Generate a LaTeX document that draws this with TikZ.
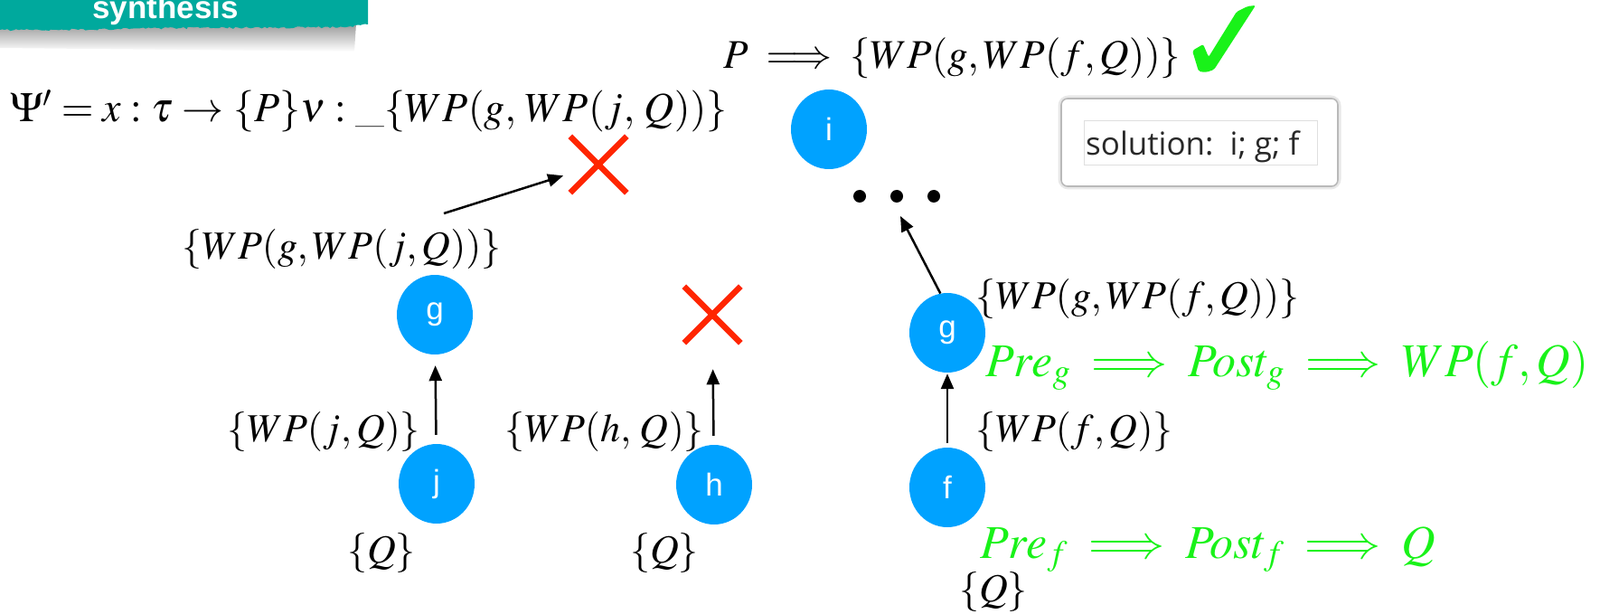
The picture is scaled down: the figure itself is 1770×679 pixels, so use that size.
\documentclass[tikz,border=0pt]{standalone}
\usepackage{amsmath}
\usepackage{mathptmx}
\usepackage[no-math]{fontspec}
\newfontfamily\sansf{Liberation Sans}
\newfontfamily\solf{Open Sans}
\usetikzlibrary{arrows.meta,shapes.geometric,shapes.misc,decorations.pathmorphing}
\definecolor{nodeblue}{RGB}{0,162,255}
\definecolor{lgreen}{RGB}{25,242,25}
\definecolor{xred}{RGB}{255,38,0}
\definecolor{teal1}{RGB}{0,169,157}
\definecolor{soltext}{RGB}{40,40,40}
\begin{document}
\begin{tikzpicture}[x=1pt,y=-1pt,
  fn/.style={ellipse, fill=nodeblue, minimum width=84pt, minimum height=88pt, inner sep=0pt,
    text=white, font=\sansf\fontsize{35}{35}\selectfont},
  lab/.style={anchor=base west, inner sep=0pt, font=\fontsize{44}{46}\selectfont},
  glab/.style={anchor=base west, inner sep=0pt, text=lgreen, font=\fontsize{52}{54}\selectfont},
  arr/.style={line width=2.5pt, -{Triangle[length=17pt,width=14pt]}},
  xmark/.style={cross out, draw=xred, line width=6.5pt, minimum size=56pt, inner sep=0pt},
  dot/.style={circle, fill=black, minimum size=14pt, inner sep=0pt}]
\useasboundingbox (0,0) rectangle (1770,679);

% banner
\shade[top color=gray!80, bottom color=white] (0,26) -- (394,26) -- (392,57) -- (0,53) -- cycle;
\fill[teal1] (0,0) -- (407,0) -- (407,27)
  decorate[decoration={random steps, segment length=3pt, amplitude=1.2pt}] {-- (380,30) -- (200,31) -- (60,33) -- (0,33)}
  -- cycle;
\node[anchor=base, inner sep=0pt, text=white, font=\sansf\bfseries\fontsize{35}{35}\selectfont] (ban) at (183,21) {synthesis};

% formulas
\node[anchor=base west, inner sep=0pt, font=\fontsize{46}{48}\selectfont] (psi) at (11,135)
  {$\Psi' = x : \tau \rightarrow \{P\}\nu : \_\{WP(g,\, WP(j,\, Q))\}$};
\node[anchor=base west, inner sep=0pt, font=\fontsize{45}{47}\selectfont] (top) at (800,76) {$P \implies \{WP(g, WP(f, Q))\}$};
\fill[lgreen, rounded corners=2pt] (1319,56) -- (1331,49) -- (1337,63) -- (1368,13) -- (1380,7) -- (1389,6)
  -- (1343,77) -- (1334,80) -- (1326,79) -- cycle;

% solution box
\draw[gray!18, line width=5pt, rounded corners=9pt] (1173,108) rectangle (1481,207);
\draw[gray!55, fill=white, line width=1.6pt, rounded corners=7pt] (1174,109) rectangle (1480,206);
\draw[gray!25, line width=0.8pt] (1199,133) rectangle (1457,182);
\node[anchor=base west, inner sep=0pt, text=soltext, font=\solf\fontsize{35}{35}\selectfont] (sol) at (1201,172) {solution:\ \ i; g; f};

% nodes
\node[fn] (i) at (917,143) {i};
\node[fn] (g1) at (481,348) {g};
\node[fn] (j) at (483,535) {j};
\node[fn] (h) at (790,536) {h};
\node[fn] (g2) at (1048,368) {g};
\node[fn] (f) at (1048,539) {f};

\node[dot] (d1) at (951,217) {};
\node[dot] (d2) at (992,217) {};
\node[dot] (d3) at (1033,217) {};

\node[xmark] (x1) at (662,182) {};
\node[xmark] (x2) at (788,348) {};

% labels
\node[lab] (lg1) at (201,286) {$\{WP(g, WP(j, Q))\}$};
\node[lab] (lj) at (251,488) {$\{WP(j, Q)\}$};
\node[lab] (lh) at (558,488) {$\{WP(h,\, Q)\}$};
\node[lab] (lqj) at (384,622) {$\{Q\}$};
\node[lab] (lqh) at (697,622) {$\{Q\}$};
\node[lab] (lg2) at (1079,341) {$\{WP(g, WP(f, Q))\}$};
\node[lab] (lf) at (1079,488) {$\{WP(f, Q)\}$};
\node[lab] (lqf) at (1061,665) {$\{Q\}$};
\node[glab] (preg) at (1090,416) {$Pre_g \implies Post_g \implies WP(f,Q)$};
\node[glab] (pref) at (1084,617) {$Pre_f \implies Post_f \implies Q$};

% connectors
\coordinate (a1) at (491,236);
\draw[arr, shorten >=8pt] (a1) -- (x1);
\draw[arr, shorten <=10pt, shorten >=12pt] (j) -- (g1);
\draw[arr, shorten <=10pt, shorten >=29pt] (h) -- (x2);
\draw[arr, shorten <=5pt, shorten >=1pt] (f) -- (g2);
\coordinate (dtip) at (996,239);
\draw[arr] (g2.100) -- (dtip);
\end{tikzpicture}
\end{document}
